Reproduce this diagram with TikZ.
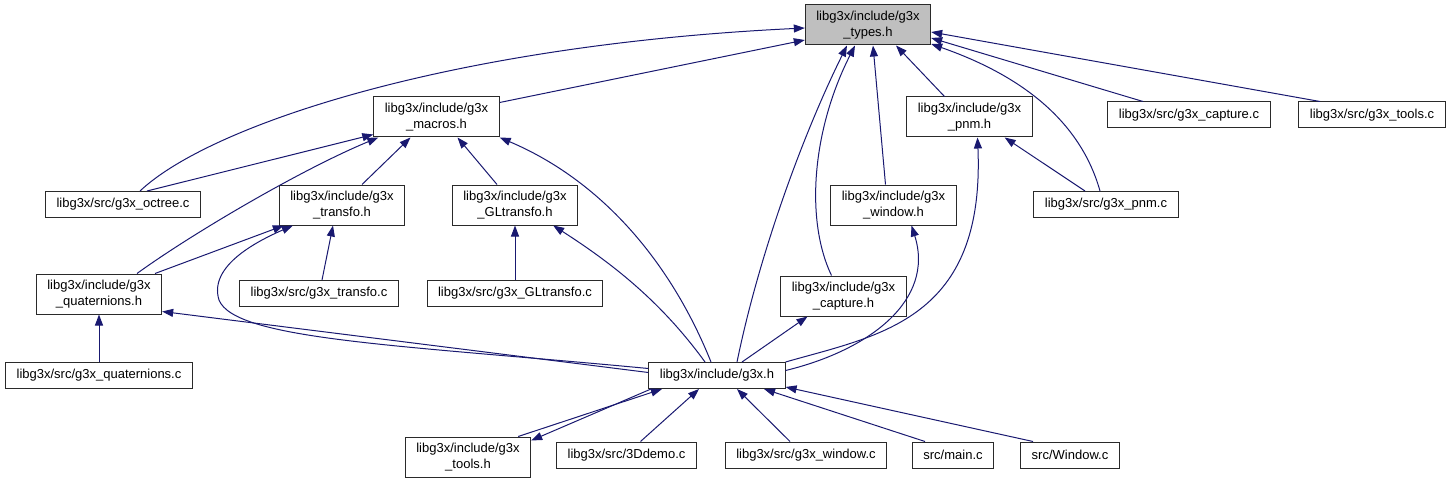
\documentclass[tikz,border=0pt]{standalone}
\usepackage{fontspec}
\setmainfont{Liberation Sans}
\usetikzlibrary{arrows.meta}
\definecolor{Edge}{HTML}{191970}
\definecolor{Rim}{HTML}{2A2A2A}
\definecolor{Sel}{HTML}{BFBFBF}
\tikzset{
  >={Triangle[length=11pt,width=8pt]},
  file/.style={draw=Rim,line width=1pt,fill=white,minimum height=26pt,inner xsep=11pt,inner ysep=2pt,font=\fontsize{13}{16.5}\selectfont},
  hdr/.style={file,align=center,minimum height=40pt},
  cur/.style={hdr,fill=Sel},
  dep/.style={->,draw=Edge,line width=1pt}
}
\begin{document}
\begin{tikzpicture}[x=1pt,y=-1pt]
  \useasboundingbox (0,0) rectangle (1453,484);
  \node[cur] (types) at (868,25) {libg3x/include/g3x\\\_types.h};
  \node[hdr] (macros) at (436.5,117) {libg3x/include/g3x\\\_macros.h};
  \node[hdr] (pnmh) at (969.5,117) {libg3x/include/g3x\\\_pnm.h};
  \node[file] (capc) at (1189,115) {libg3x/src/g3x\_capture.c};
  \node[file] (toolc) at (1372,115) {libg3x/src/g3x\_tools.c};
  \node[file] (octc) at (123,204.5) {libg3x/src/g3x\_octree.c};
  \node[hdr] (trfh) at (342,205) {libg3x/include/g3x\\\_transfo.h};
  \node[hdr] (gltrfh) at (515,205) {libg3x/include/g3x\\\_GLtransfo.h};
  \node[hdr] (winh) at (893.5,205) {libg3x/include/g3x\\\_window.h};
  \node[file] (pnmc) at (1106,204.5) {libg3x/src/g3x\_pnm.c};
  \node[hdr] (quath) at (99,294) {libg3x/include/g3x\\\_quaternions.h};
  \node[file] (trfc) at (319,293.5) {libg3x/src/g3x\_transfo.c};
  \node[file] (gltrfc) at (515,293.5) {libg3x/src/g3x\_GLtransfo.c};
  \node[hdr] (caph) at (843.5,296) {libg3x/include/g3x\\\_capture.h};
  \node[file] (g3x) at (717,375.5) {libg3x/include/g3x.h};
  \node[file] (quatc) at (99,375) {libg3x/src/g3x\_quaternions.c};
  \node[hdr] (toolh) at (468,457) {libg3x/include/g3x\\\_tools.h};
  \node[file] (demo) at (626.5,455) {libg3x/src/3Ddemo.c};
  \node[file] (winc) at (806,455) {libg3x/src/g3x\_window.c};
  \node[file] (mainc) at (953,455) {src/main.c};
  \node[file] (Winc) at (1070,455) {src/Window.c};

  \draw[dep] ([xshift=17pt]octc.north) .. controls (210,125) and (450,45) .. ([yshift=-3pt]types.west);
  \draw[dep] ([yshift=-6pt]macros.north east) -- ([yshift=-15pt]types.west);
  \draw[dep] ([xshift=24pt]octc.north) -- ([yshift=3pt]macros.south west);
  \draw[dep] ([xshift=38pt]quath.north) .. controls (190,235) and (300,170) .. ([xshift=5pt]macros.south west);
  \draw[dep] ([xshift=20pt]trfh.north) -- ([xshift=-26pt]macros.south);
  \draw[dep] ([xshift=-18pt]gltrfh.north) -- ([xshift=21pt]macros.south);
  \draw[dep] ([xshift=-6pt]g3x.north) .. controls (670,260) and (600,180) .. (macros.south east);
  \draw[dep] ([xshift=56pt]quath.north) -- ([xshift=5pt]trfh.south west);
  \draw[dep] ([yshift=7pt]g3x.west) .. controls (400,345) and (235,340) .. (219,300) .. controls (208,265) and (260,240) .. ([xshift=14pt]trfh.south west);
  \draw[dep] ([xshift=3pt]trfc.north) -- ([xshift=-9pt]trfh.south);
  \draw[dep] (gltrfc.north) -- (gltrfh.south);
  \draw[dep] ([xshift=-12pt]g3x.north) .. controls (660,300) and (610,262) .. ([xshift=-25pt]gltrfh.south east);
  \draw[dep] (quatc.north) -- (quath.south);
  \draw[dep] ([yshift=3pt]g3x.west) -- ([yshift=3pt]quath.south east);
  \draw[dep] ([xshift=20pt]g3x.north) .. controls (760,250) and (805,130) .. ([xshift=-21pt]types.south);
  \draw[dep] ([xshift=-12pt]caph.north) .. controls (805,220) and (812,130) .. ([xshift=-13pt]types.south);
  \draw[dep] ([xshift=-8pt]winh.north) -- ([xshift=5pt]types.south);
  \draw[dep] ([xshift=-25pt]pnmh.north) -- ([xshift=28pt]types.south);
  \draw[dep] ([xshift=-6pt]pnmc.north) .. controls (1080,120) and (1020,75) .. ([yshift=-19pt]types.east);
  \draw[dep] ([xshift=-46pt]capc.north) -- ([yshift=-13pt]types.east);
  \draw[dep] ([xshift=-52pt]toolc.north) -- ([yshift=-7pt]types.east);
  \draw[dep] ([xshift=-21pt]pnmc.north) -- ([xshift=-28pt]pnmh.south east);
  \draw[dep] (g3x.north east) .. controls (880,335) and (985,320) .. ([xshift=8pt]pnmh.south);
  \draw[dep] ([yshift=5pt]g3x.east) .. controls (870,350) and (935,300) .. ([xshift=18pt]winh.south);
  \draw[dep] ([xshift=25pt]g3x.north) -- ([xshift=-36pt]caph.south);
  \draw[dep] ([xshift=-13pt]toolh.north east) -- ([xshift=-55pt]g3x.south);
  \draw[dep] ([xshift=-66pt]g3x.south) -- ([yshift=-4pt]toolh.north east);
  \draw[dep] ([xshift=14pt]demo.north) -- ([xshift=-18pt]g3x.south);
  \draw[dep] ([xshift=-16pt]winc.north) -- ([xshift=20pt]g3x.south);
  \draw[dep] ([xshift=-28pt]mainc.north) -- ([xshift=47pt]g3x.south);
  \draw[dep] ([xshift=-37pt]Winc.north) -- ([yshift=2pt]g3x.south east);
\end{tikzpicture}
\end{document}
